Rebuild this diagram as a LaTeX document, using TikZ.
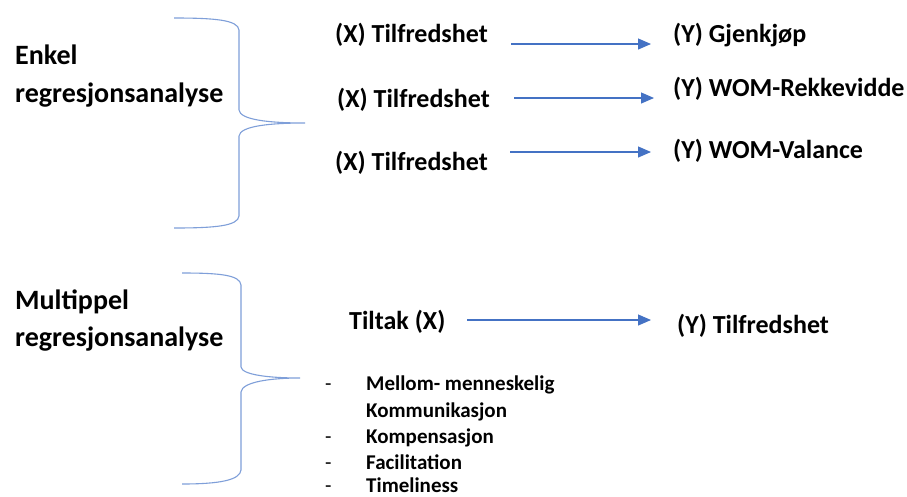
\documentclass[tikz,border=0pt]{standalone}
\usepackage{fontspec}
\setmainfont{Carlito}
\usetikzlibrary{arrows.meta}
\definecolor{arrowblue}{HTML}{4472C4}
\definecolor{braceblue}{HTML}{7F9FD9}
\begin{document}
\begin{tikzpicture}[x=1pt,y=-1pt,
  txt/.style={anchor=base west,inner sep=0pt},
  lbl/.style={txt,font=\bfseries\fontsize{28}{32}\selectfont},
  var/.style={txt,font=\bfseries\fontsize{26}{30}\selectfont},
  item/.style={txt,font=\bfseries\fontsize{21}{24}\selectfont},
  bullet/.style={txt,font=\fontsize{21}{24}\selectfont},
  link/.style={draw=arrowblue,line width=1.1pt,-{Triangle[length=13pt,width=11pt]}},
  brace/.style={draw=braceblue,line width=1.1pt}]
\useasboundingbox (0,0) rectangle (907,496);
\fill[white] (0,0) rectangle (907,496);

% left-hand labels (positions are baselines)
\node[lbl] (enkel) at (15,64) {Enkel};
\node[lbl] (enkel2) at (15,102) {regresjonsanalyse};
\node[lbl] (multi) at (15,309) {Multippel};
\node[lbl] (multi2) at (15,346) {regresjonsanalyse};

% simple regression: three predictor/outcome pairs
\node[var] (x1) at (335,42) {(X) Tilfredshet};
\node[var] (x2) at (337,107) {(X) Tilfredshet};
\node[var] (x3) at (335,170) {(X) Tilfredshet};
\node[var] (y1) at (673,42) {(Y) Gjenkjøp};
\node[var] (y2) at (673,96) {(Y) WOM-Rekkevidde};
\node[var] (y3) at (673,158) {(Y) WOM-Valance};
\coordinate (a1s) at (511,44);  \coordinate (a1e) at (651,44);
\coordinate (a2s) at (514,98);  \coordinate (a2e) at (654,98);
\coordinate (a3s) at (510,152); \coordinate (a3e) at (651,152);
\draw[link] (a1s) -- (a1e);
\draw[link] (a2s) -- (a2e);
\draw[link] (a3s) -- (a3e);

% multiple regression
\node[var] (tx) at (349,329) {Tiltak (X)};
\node[var] (ty) at (677,333) {(Y) Tilfredshet};
\coordinate (a4s) at (467,320); \coordinate (a4e) at (651,320);
\draw[link] (a4s) -- (a4e);

% list of measures
\foreach \yy/\txt/\nm in {390/Mellom- menneskelig/i1,443/Kompensasjon/i3,469/Facilitation/i4,492/Timeliness/i5}{
  \node[bullet] (d\nm) at (325,\yy) {-};
  \node[item] (\nm) at (366,\yy) {\txt};
}
\node[item] (i2) at (366,417) {Kommunikasjon};

% braces
\draw[brace] (174,18) .. controls (215,18) and (238,20) .. (239,30)
  -- (239,110) .. controls (240,120) and (270,123) .. (305,123)
  .. controls (270,123) and (240,126) .. (239,136)
  -- (239,216) .. controls (238,226) and (215,228) .. (174,228);
\draw[brace] (182,273) .. controls (220,273) and (240,275) .. (241,285)
  -- (241,367) .. controls (242,375) and (270,378) .. (300,378)
  .. controls (270,378) and (242,382) .. (241,392)
  -- (241,470) .. controls (240,480) and (220,484) .. (182,484);
\end{tikzpicture}
\end{document}
